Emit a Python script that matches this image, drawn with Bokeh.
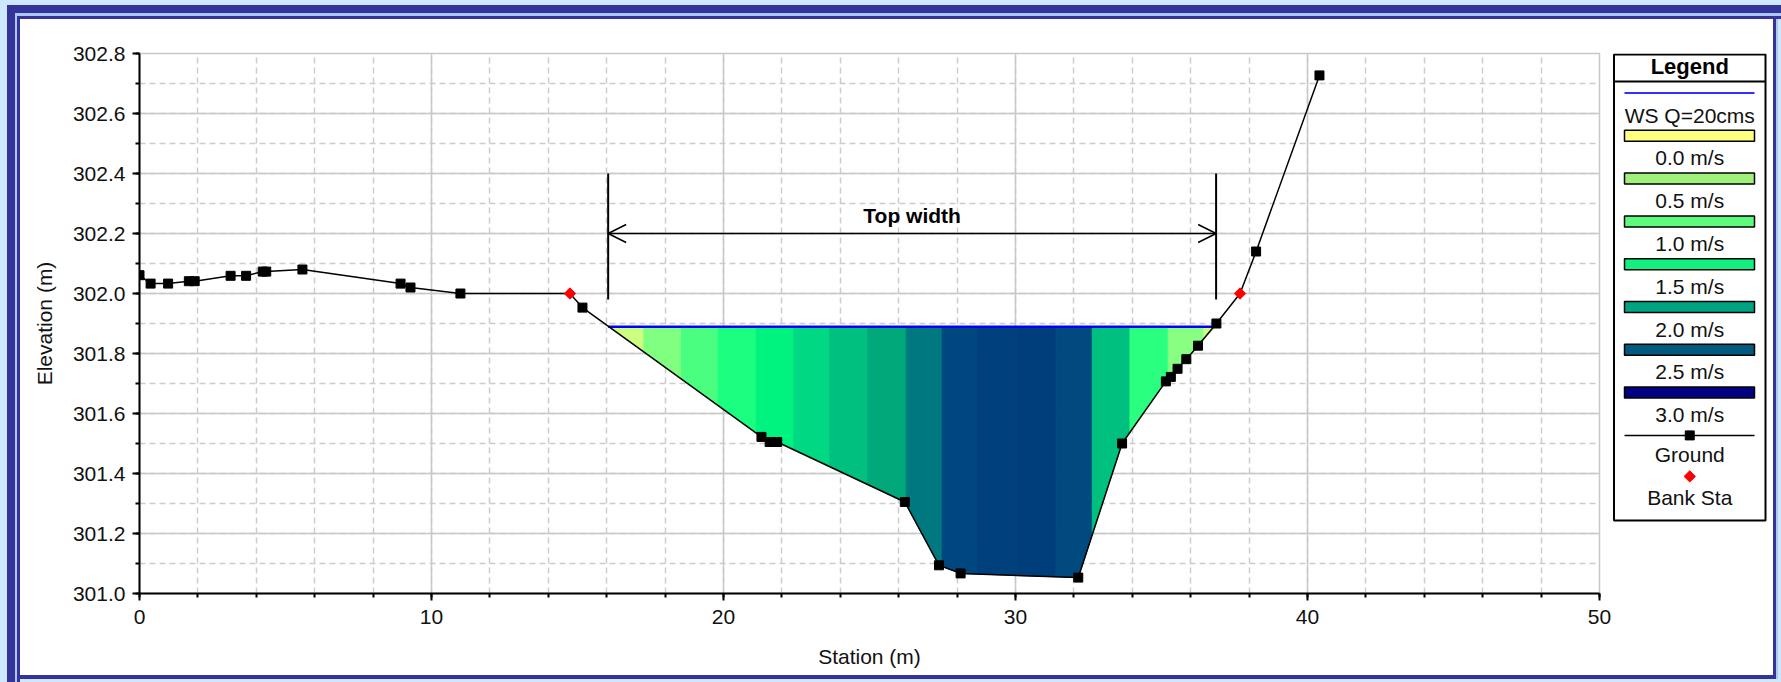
import numpy as np
from bokeh.plotting import figure
from bokeh.layouts import row
from bokeh.models import Range1d, SingleIntervalTicker, PrintfTickFormatter, Arrow, OpenHead
from bokeh.core.properties import value
from bokeh.embed import file_html
from bokeh.resources import INLINE

# ---------------- data ----------------
ground_sta = [0.00, 0.38, 0.98, 1.69, 1.89, 3.12, 3.65, 4.22, 4.34, 5.58, 8.94, 9.28,
              10.99, 14.74, 15.17, 21.30, 21.58, 21.84, 26.21, 27.38, 28.12, 32.15,
              33.65, 35.15, 35.32, 35.55, 35.85, 36.25, 36.88, 37.69, 38.24, 40.41]
ground_elev = [302.061, 302.033, 302.033, 302.041, 302.041, 302.059, 302.059, 302.073,
               302.073, 302.080, 302.033, 302.020, 302.000, 302.000, 301.953, 301.522,
               301.505, 301.505, 301.305, 301.094, 301.067, 301.053, 301.500, 301.707,
               301.722, 301.749, 301.781, 301.826, 301.900, 302.000, 302.140, 302.727]
bank_sta = [14.74, 37.69]
bank_elev = [302.0, 302.0]

ws_elev = 301.889
ws_sta = [16.05, 36.87]

slice_bounds = [16.05, 17.27, 18.56, 19.82, 21.12, 22.41, 23.64, 24.94, 26.26, 27.49,
                28.70, 30.06, 31.39, 32.63, 33.92, 35.23, 36.45, 36.87]
slice_colors = ["#ccff80", "#80ff80", "#4aff80", "#1aff80", "#00f27f", "#00d884",
                "#00c080", "#00a87a", "#00787f", "#00467f", "#00417d", "#003e7b",
                "#004a80", "#00c080", "#2aff80", "#88ff80", "#ccff80"]

topwidth_sta = [16.05, 36.87]
topwidth_low, topwidth_high, topwidth_arrow = 301.98, 302.40, 302.20
topwidth_text = "Top width"

legend_title = "Legend"
ws_label = "WS Q=20cms"
vel_labels = ["0.0 m/s", "0.5 m/s", "1.0 m/s", "1.5 m/s", "2.0 m/s", "2.5 m/s", "3.0 m/s"]
vel_colors = ["#ffff80", "#a0f07c", "#5efa7c", "#12f080", "#00a482", "#005a7f", "#000080"]
ground_label = "Ground"
bank_label = "Bank Sta"

x_title = "Station (m)"
y_title = "Elevation (m)"

FONT = "Liberation Sans"
FS = "21px"

# page geometry
W, H = 1781, 682
MAIN_W = 1612
B_LEFT, B_RIGHT, B_TOP, B_BOTTOM = 139, 13, 53, 89

# ---------------- main plot ----------------
p = figure(width=MAIN_W, height=H, x_range=Range1d(0, 50), y_range=Range1d(301.0, 302.8),
           output_backend="svg", toolbar_location=None,
           min_border_left=B_LEFT, min_border_right=B_RIGHT,
           min_border_top=B_TOP, min_border_bottom=B_BOTTOM)
p.background_fill_color = "white"
p.border_fill_alpha = 0
p.outline_line_color = "#c8c8c8"
p.outline_line_width = 1.5

p.xaxis.ticker = SingleIntervalTicker(interval=10, num_minor_ticks=5)
p.yaxis.ticker = SingleIntervalTicker(interval=0.2, num_minor_ticks=2)
p.yaxis.formatter = PrintfTickFormatter(format="%.1f")
p.xaxis.axis_label = x_title
p.yaxis.axis_label = y_title
for ax in (p.xaxis[0], p.yaxis[0]):
    ax.axis_line_color = "black"
    ax.axis_line_width = 2
    ax.major_tick_line_color = "black"
    ax.minor_tick_line_color = "black"
    ax.major_tick_line_width = 2
    ax.minor_tick_line_width = 2
    ax.major_tick_in = 0
    ax.major_tick_out = 7
    ax.minor_tick_in = 0
    ax.minor_tick_out = 4
    ax.major_label_text_font = FONT
    ax.major_label_text_font_size = FS
    ax.major_label_text_color = "#111111"
    ax.axis_label_text_font = FONT
    ax.axis_label_text_font_size = FS
    ax.axis_label_text_font_style = "normal"
    ax.axis_label_text_color = "#111111"
p.xaxis.major_label_standoff = 9
p.xaxis.axis_label_standoff = 18
p.yaxis.major_label_standoff = 7
p.yaxis.axis_label_standoff = 14

p.grid.grid_line_color = "#c8c8c8"
p.grid.grid_line_width = 1.5
p.grid.minor_grid_line_color = "#cccccc"
p.grid.minor_grid_line_width = 1.5
p.grid.minor_grid_line_dash = "6 4"

gs = np.array(ground_sta)
ge = np.array(ground_elev)

# velocity slices of the water area
for a, b, c in zip(slice_bounds[:-1], slice_bounds[1:], slice_colors):
    inner = gs[(gs > a) & (gs < b)]
    xs = np.concatenate([[a], inner, [b]])
    ys = np.minimum(np.interp(xs, gs, ge), ws_elev)
    px = list(xs) + [b, a]
    py = list(ys) + [ws_elev, ws_elev]
    p.patch(px, py, fill_color=c, line_color=c, line_width=1)

# water surface
p.line(ws_sta, [ws_elev, ws_elev], line_color="#0000ff", line_width=2.5)

# ground
p.line(gs, ge, line_color="black", line_width=1.5)
mask = ~np.isin(gs, bank_sta)
p.scatter(gs[mask], ge[mask], marker="square", size=9, fill_color="black", line_color="black")
p.scatter(bank_sta, bank_elev, marker="square", angle=np.pi / 4, size=8,
          fill_color="red", line_color="red")

# top width annotation
p.segment(x0=topwidth_sta, y0=[topwidth_low] * 2, x1=topwidth_sta, y1=[topwidth_high] * 2,
          line_color="black", line_width=2)
p.add_layout(Arrow(x_start=topwidth_sta[0], y_start=topwidth_arrow,
                   x_end=topwidth_sta[1], y_end=topwidth_arrow,
                   start=OpenHead(size=18, line_width=1.5), end=OpenHead(size=18, line_width=1.5),
                   line_width=1.5, line_color="black"))
p.text(x=[sum(topwidth_sta) / 2], y=[302.26], text=[topwidth_text],
       text_font=value(FONT), text_font_size=FS, text_font_style="bold",
       text_align="center", text_baseline="middle", text_color="black")

# ---------------- legend panel (data units = page pixels) ----------------
LW = W - MAIN_W
leg = figure(width=LW, height=H, x_range=Range1d(0, LW),
             y_range=Range1d(H - B_BOTTOM, B_TOP),
             output_backend="svg", toolbar_location=None,
             x_axis_location=None, y_axis_location=None,
             min_border_left=0, min_border_right=0,
             min_border_top=B_TOP, min_border_bottom=B_BOTTOM)
leg.grid.visible = False
leg.outline_line_color = None
leg.background_fill_alpha = 0
leg.border_fill_alpha = 0

box_l, box_r, box_t, box_b = 1.5, 153, 54, 520
cx = (box_l + box_r) / 2
leg.quad(left=[box_l], right=[box_r], top=[box_t], bottom=[box_b],
         fill_color="white", line_color="black", line_width=2)
leg.segment(x0=[box_l], y0=[81], x1=[box_r], y1=[81], line_color="black", line_width=2)
leg.text(x=[cx], y=[66], text=[legend_title], text_font=value(FONT), text_font_size="22px",
         text_font_style="bold", text_align="center", text_baseline="middle", text_color="black")

step = 42.8
y0 = 92.5
sx0, sx1 = 12, 142
lab_off = 22
# water surface entry
leg.line([sx0, sx1], [y0, y0], line_color="#3030ff", line_width=2)
entry_labels = [ws_label]
entry_y = [y0 + lab_off]
# velocity entries
bar_y = [y0 + step * (i + 1) for i in range(len(vel_labels))]
leg.quad(left=[sx0] * len(bar_y), right=[sx1] * len(bar_y),
         top=[y - 5.5 for y in bar_y], bottom=[y + 5.5 for y in bar_y],
         fill_color=vel_colors, line_color="black", line_width=1.5)
entry_labels += vel_labels
entry_y += [y + lab_off for y in bar_y]
# ground entry
gy = y0 + step * (len(vel_labels) + 1)
leg.line([sx0, sx1], [gy, gy], line_color="black", line_width=1.5)
leg.scatter([cx], [gy], marker="square", size=9, fill_color="black", line_color="black")
entry_labels.append(ground_label)
entry_y.append(gy + 19.5)
# bank station entry
by = gy + 41
leg.scatter([cx], [by], marker="square", angle=np.pi / 4, size=8, fill_color="red", line_color="red")
entry_labels.append(bank_label)
entry_y.append(by + 21.5)

leg.text(x=[cx] * len(entry_labels), y=entry_y, text=entry_labels,
         text_font=value(FONT), text_font_size=FS, text_align="center",
         text_baseline="middle", text_color="#111111")

LIGHT = "#cde8fd"
DARK = "#333399"
MID = "#aac8f0"
layout = row(p, leg, styles={
    "background-color": "white",
    "box-shadow": (f"inset 7px 5px 0 0 {LIGHT}, inset 15px 13px 0 0 {DARK}, "
                   f"inset 17px 16px 0 0 {MID}, inset 20px 19px 0 0 {DARK}, "
                   f"inset -3px -3px 0 0 {LIGHT}, inset -5px -3px 0 0 {MID}, "
                   f"inset -8px -7px 0 0 {DARK}"),
})

open("out.html", "w").write(file_html(layout, INLINE))
